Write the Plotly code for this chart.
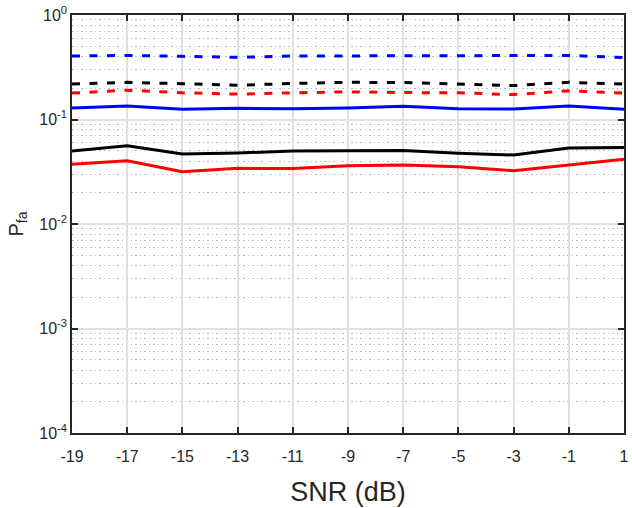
import plotly.graph_objects as go

# SNR sweep (dB)
snr_db = [-19, -17, -15, -13, -11, -9, -7, -5, -3, -1, 1]

# False-alarm probability for each detector configuration
pfa_blue_dash = [0.405, 0.410, 0.402, 0.394, 0.405, 0.405, 0.410, 0.410, 0.410, 0.410, 0.392]
pfa_black_dash = [0.219, 0.227, 0.220, 0.213, 0.221, 0.227, 0.226, 0.220, 0.211, 0.227, 0.218]
pfa_red_dash = [0.179, 0.191, 0.180, 0.175, 0.180, 0.184, 0.181, 0.180, 0.173, 0.188, 0.179]
pfa_blue = [0.129, 0.135, 0.125, 0.128, 0.127, 0.129, 0.134, 0.127, 0.126, 0.135, 0.125]
pfa_black = [0.0500, 0.0561, 0.0468, 0.0478, 0.0500, 0.0500, 0.0505, 0.0475, 0.0457, 0.0535, 0.0540]
pfa_red = [0.0373, 0.0403, 0.0317, 0.0341, 0.0339, 0.0361, 0.0367, 0.0354, 0.0324, 0.0367, 0.0416]

x_tick_vals = [-19, -17, -15, -13, -11, -9, -7, -5, -3, -1, 1]
x_tick_text = ["-19", "-17", "-15", "-13", "-11", "-9", "-7", "-5", "-3", "-1", "1"]
y_tick_vals = [1e-4, 1e-3, 1e-2, 1e-1, 1]
y_tick_text = ["10<sup>-4</sup>", "10<sup>-3</sup>", "10<sup>-2</sup>",
               "10<sup>-1</sup>", "10<sup>0</sup>"]

AX = "#262626"
GRID = "#e0e0e0"
DASH = "8px,9.5px"
TICK_FONT = dict(family="Liberation Sans Narrow, Liberation Sans, Arial", size=16, color=AX)

series = [
    (pfa_red, "#ff0000", "solid"),
    (pfa_black, "#000000", "solid"),
    (pfa_blue, "#0000ff", "solid"),
    (pfa_red_dash, "#ff0000", DASH),
    (pfa_black_dash, "#000000", DASH),
    (pfa_blue_dash, "#0000ff", DASH),
]

fig = go.Figure()
for vals, color, dash in series:
    fig.add_trace(go.Scatter(
        x=snr_db, y=vals, mode="lines",
        line=dict(color=color, width=3, dash=dash),
        showlegend=False,
    ))

minor_vals = [m * 10 ** e for e in range(-4, 0) for m in range(2, 10)]

fig.update_layout(
    width=632, height=508,
    margin=dict(l=72, r=3, t=15, b=75),
    paper_bgcolor="white", plot_bgcolor="white",
    xaxis=dict(
        range=[-19, 1],
        tickmode="array", tickvals=x_tick_vals, ticktext=x_tick_text,
        ticks="inside", ticklen=6, tickwidth=1.5, tickcolor=AX,
        showline=True, linecolor=AX, linewidth=1.5, mirror="ticks",
        showgrid=True, gridcolor=GRID, gridwidth=1.5,
        zeroline=False,
        tickfont=TICK_FONT,
        ticklabelstandoff=8,
        ticklabeloverflow="allow",
        title=dict(text="SNR (dB)", standoff=18,
                   font=dict(family="Liberation Sans, Arial", size=27, color=AX)),
    ),
    yaxis=dict(
        type="log", range=[-4, 0],
        tickmode="array", tickvals=y_tick_vals, ticktext=y_tick_text,
        ticks="inside", ticklen=6, tickwidth=1.5, tickcolor=AX,
        showline=True, linecolor=AX, linewidth=1.5, mirror="ticks",
        showgrid=True, gridcolor=GRID, gridwidth=1.5,
        zeroline=False,
        tickfont=TICK_FONT,
        minor=dict(tickmode="array", tickvals=minor_vals, ticks="",
                   showgrid=True, gridcolor="#bdbdbd", griddash="1.5px,3px", gridwidth=1),
        title=dict(text="P<sub>fa</sub>", standoff=10,
                   font=dict(family="Liberation Sans, Arial", size=20, color=AX)),
    ),
)

fig.write_html("out.html")
